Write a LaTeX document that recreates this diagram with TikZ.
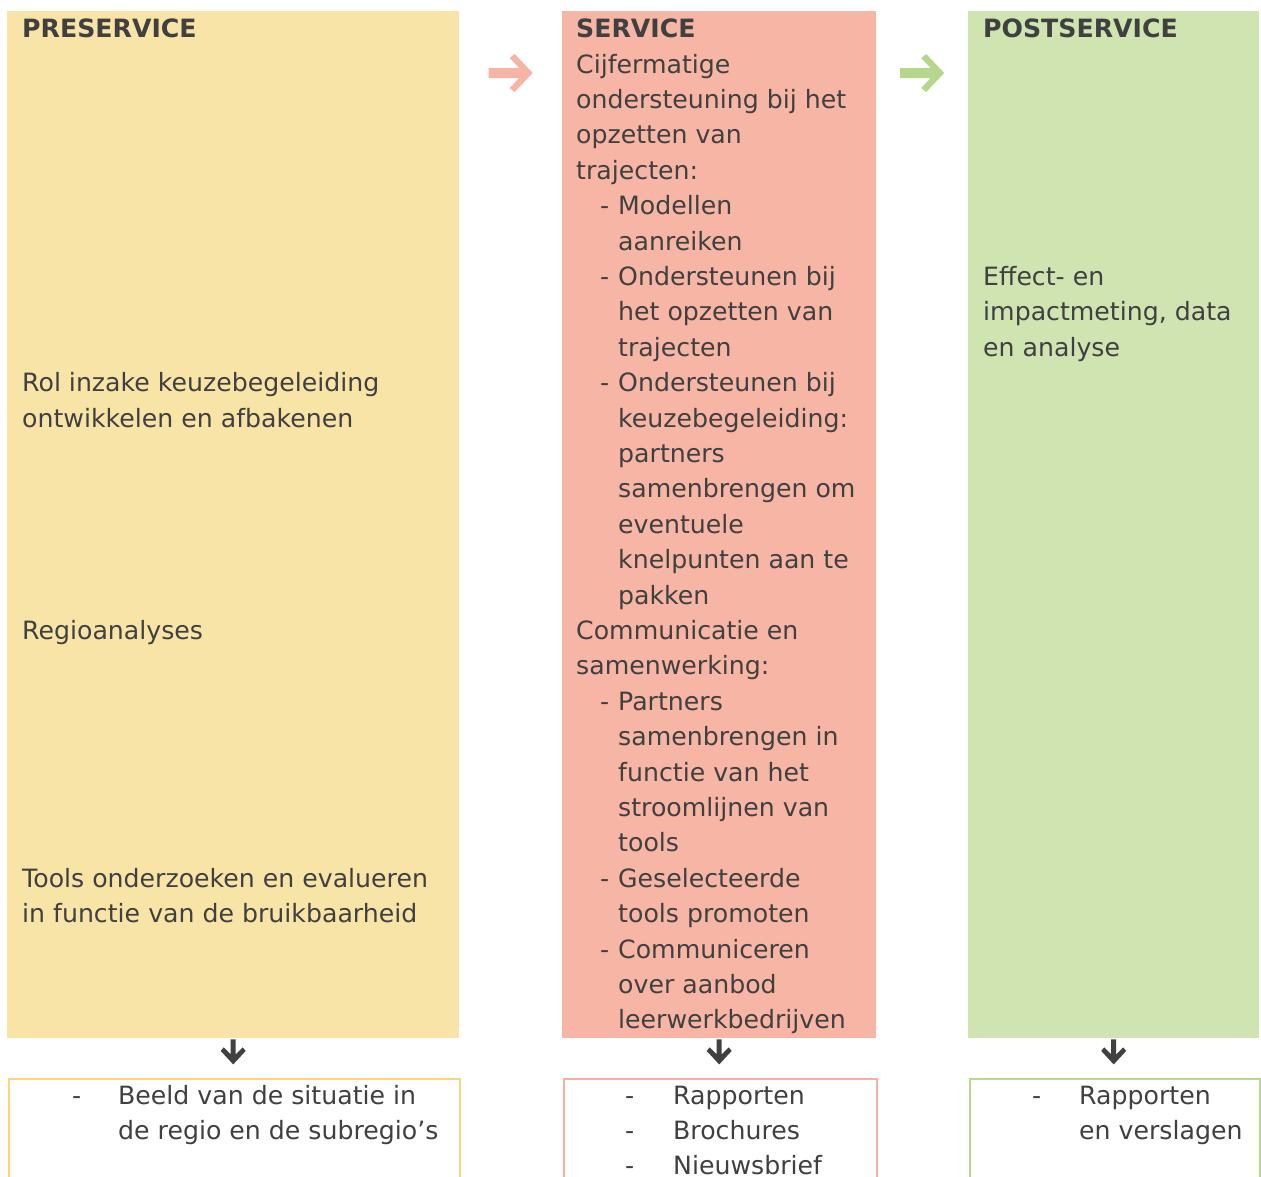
\documentclass[tikz,border=0pt]{standalone}
\usepackage{fontspec}
\setmainfont{DejaVu Sans}
\usetikzlibrary{calc}
\definecolor{txt}{HTML}{404040}
\definecolor{yfill}{HTML}{F9E4A8}
\definecolor{sfill}{HTML}{F7B5A5}
\definecolor{gfill}{HTML}{CFE4B1}
\definecolor{yline}{HTML}{F8D77E}
\definecolor{sline}{HTML}{F4B0A0}
\definecolor{gline}{HTML}{B6D98E}
\definecolor{sarrow}{HTML}{F6B4A4}
\definecolor{garrow}{HTML}{B5D78C}
\definecolor{darrowc}{HTML}{404040}
\newcommand{\dsh}{\makebox[18pt][l]{-}}
\begin{document}
\begin{tikzpicture}[x=1pt,y=-1pt,
  textline/.style={anchor=base west, inner sep=0pt, text=txt, font=\fontsize{25.2}{30}\selectfont},
  column/.style={anchor=north west, inner sep=0pt, draw=none, minimum height=1027},
  outbox/.style={anchor=north west, inner sep=0pt, line width=2pt, fill=white, minimum height=140},
  rarrow/.pic={\fill (0,-5) -- (30.5,-5) -- (21,-15) -- (26,-19) -- (44,0) -- (26,19) -- (21,15) -- (30.5,5) -- (0,5) -- cycle;},
  darrow/.pic={\fill[darrowc] (-2.5,0) -- (2.5,0) -- (2.5,15) -- (9.5,8) -- (12.5,11.5) -- (0,25) -- (-12.5,11.5) -- (-9.5,8) -- (-2.5,15) -- cycle;}
]
\useasboundingbox (0,0) rectangle (1261,1176);
\fill[white] (0,0) rectangle (1261,1176);

% columns
\node[column, fill=yfill, minimum width=452] (pre) at (7,11) {};
\node[column, fill=sfill, minimum width=314] (ser) at (562,11) {};
\node[column, fill=gfill, minimum width=291] (post) at (968,11) {};

% output boxes
\node[outbox, draw=yline, minimum width=451] (preout) at (7.5,1077.5) {};
\node[outbox, draw=sline, minimum width=313] (serout) at (562.5,1077.5) {};
\node[outbox, draw=gline, minimum width=290] (postout) at (968.5,1077.5) {};

% arrows between columns
\pic[fill=sarrow] at ($(pre.north east)!0.5!(ser.north west)+(-22,62)$) {rarrow};
\pic[fill=garrow] at ($(ser.north east)!0.5!(post.north west)+(-22,62)$) {rarrow};

% down arrows
\pic at ($(pre.south)+(0,1)$) {darrow};
\pic at ($(ser.south)+(0,1)$) {darrow};
\pic at ($(post.south)+(0,1)$) {darrow};

% preservice text
\node[textline] (pret0) at (22,37.6) {\textbf{PRESERVICE}};
\node[textline] (pret1) at (22,391.6) {Rol inzake keuzebegeleiding};
\node[textline] (pret2) at (22,427) {ontwikkelen en afbakenen};
\node[textline] (pret3) at (22,639.4) {Regioanalyses};
\node[textline] (pret4) at (22,887.2) {Tools onderzoeken en evalueren};
\node[textline] (pret5) at (22,922.6) {in functie van de bruikbaarheid};

% service text
\foreach \x/\t [count=\i from 0] in {576/{\textbf{SERVICE}}, 576/Cijfermatige, 576/ondersteuning bij het, 576/opzetten van, 576/trajecten:, 600/{\dsh Modellen}, 618/aanreiken, 600/{\dsh Ondersteunen bij}, 618/het opzetten van, 618/trajecten, 600/{\dsh Ondersteunen bij}, 618/keuzebegeleiding:, 618/partners, 618/samenbrengen om, 618/eventuele, 618/knelpunten aan te, 618/pakken, 576/Communicatie en, 576/samenwerking:, 600/{\dsh Partners}, 618/samenbrengen in, 618/functie van het, 618/stroomlijnen van, 618/tools, 600/{\dsh Geselecteerde}, 618/tools promoten, 600/{\dsh Communiceren}, 618/over aanbod, 618/leerwerkbedrijven}
  \node[textline] (sert\i) at (\x,{37.6+35.4*\i}) {\t};

% postservice text
\node[textline] (postt0) at (983,37.6) {\textbf{POSTSERVICE}};
\node[textline] (postt1) at (983,285.4) {Effect- en};
\node[textline] (postt2) at (983,320.8) {impactmeting, data};
\node[textline] (postt3) at (983,356.2) {en analyse};

% output texts
\node[textline] (pred1) at (72,1104) {-};
\node[textline] (preo1) at (118,1104) {Beeld van de situatie in};
\node[textline] (preo2) at (118,1139.4) {de regio en de subregio’s};

\node[textline] (serd1) at (625,1104) {-};
\node[textline] (serd2) at (625,1139.4) {-};
\node[textline] (serd3) at (625,1174.8) {-};
\node[textline] (sero1) at (673,1104) {Rapporten};
\node[textline] (sero2) at (673,1139.4) {Brochures};
\node[textline] (sero3) at (673,1174.8) {Nieuwsbrief};

\node[textline] (postd1) at (1032,1104) {-};
\node[textline] (posto1) at (1079,1104) {Rapporten};
\node[textline] (posto2) at (1079,1139.4) {en verslagen};
\end{tikzpicture}
\end{document}
